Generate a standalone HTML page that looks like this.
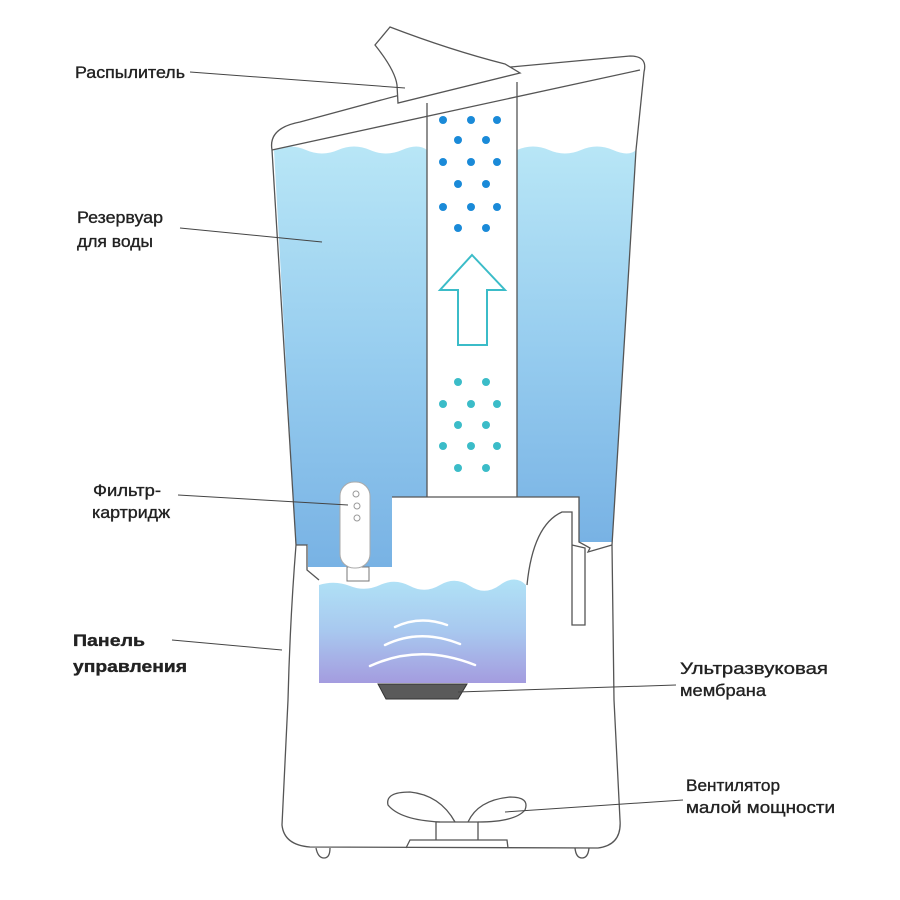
<!DOCTYPE html>
<html><head><meta charset="utf-8"><style>
body{margin:0;background:#fff}
svg{display:block}
text{font-family:"Liberation Sans",sans-serif;font-size:17px;fill:#222;stroke:#222;stroke-width:0.35}
</style></head><body>
<svg width="900" height="900" viewBox="0 0 900 900">
<defs>
<linearGradient id="w" x1="0" y1="0" x2="0" y2="1">
<stop offset="0" stop-color="#b8e6f6"/><stop offset="0.5" stop-color="#97cdef"/><stop offset="1" stop-color="#78b2e4"/></linearGradient>
<linearGradient id="w2" x1="0" y1="0" x2="0" y2="1">
<stop offset="0" stop-color="#b0e2f6"/><stop offset="0.5" stop-color="#a8c8ef"/><stop offset="1" stop-color="#a49cdf"/></linearGradient>
</defs>
<path d="M274 150 Q290 143 306 150 T338 150 T370 150 T402 150 T427 150 L427 497 L392 497 L392 567 L308 567 L308 545 L296 545 Z" fill="url(#w)"/>
<path d="M517 150 Q533 143 549 150 T581 150 T613 150 T636 150 L612 542 L579 542 L579 497 L517 497 Z" fill="url(#w)"/>
<g fill="none" stroke="#555" stroke-width="1.3">
<path d="M272 150 Q268 128 300 122 L500 68"/>
<path d="M272 150 L640 70"/>
<path d="M500 68 L630 56 Q648 56 644 72 L636 150 L612 545"/>
<path d="M272 150 L296 545"/>
<path d="M390 27 L375 45 Q395 70 397 85 L398 103 L520 73 L505 64 Q450 50 390 27Z" fill="#fff"/>
<path d="M296 545 L307 545 L307 570 L319 580 M392 497 L579 497 L579 542 L590 548 L588 552 L612 545"/>
<path d="M296 545 Q290 620 288 700 Q284 780 282 825 Q284 845 310 847 L598 848 Q622 845 620 820 L614 700 L612 545"/>
<path d="M527 585 Q533 525 562 512 L572 512 L572 545 L585 548 L585 625 L572 625 L572 545"/>
<path d="M316 848 Q318 858 324 858 Q330 858 330 848 M575 848 Q576 858 582 858 Q588 858 589 848"/>
<path d="M436 840 L436 822 L478 822 L478 840 M406 848 L410 840 L507 840 L508 848"/>
<path d="M440 822 Q400 820 388 805 Q385 792 410 792 Q440 795 455 822"/>
<path d="M468 822 Q478 800 510 797 Q530 797 525 810 Q515 822 478 822"/>
<path d="M427 103 L427 497 M517 82 L517 497"/>
</g>
<path d="M319 585 Q335 580 350 586 T380 585 T410 586 T440 585 T470 586 T500 585 T526 585 L526 683 L319 683 Z" fill="url(#w2)"/>
<path d="M378 684 L467 684 L458 699 L386 699 Z" fill="#5a5a5a" stroke="#333"/>
<g fill="none" stroke="#fff" stroke-width="2.5" stroke-linecap="round">
<path d="M395 627 Q420 615 447 625"/><path d="M385 645 Q420 628 460 644"/><path d="M370 666 Q420 643 475 665"/></g>
<rect x="347" y="567" width="22" height="14" fill="#fff" stroke="#777"/>
<rect x="340" y="482" width="30" height="86" rx="14" fill="#fff" stroke="#aaa"/>
<g fill="none" stroke="#999"><circle cx="356" cy="494" r="3"/><circle cx="357" cy="506" r="3"/><circle cx="357" cy="518" r="3"/></g>
<g fill="#1a8ad8">
<circle cx="443" cy="120" r="4"/><circle cx="471" cy="120" r="4"/><circle cx="497" cy="120" r="4"/>
<circle cx="458" cy="140" r="4"/><circle cx="486" cy="140" r="4"/>
<circle cx="443" cy="162" r="4"/><circle cx="471" cy="162" r="4"/><circle cx="497" cy="162" r="4"/>
<circle cx="458" cy="184" r="4"/><circle cx="486" cy="184" r="4"/>
<circle cx="443" cy="207" r="4"/><circle cx="471" cy="207" r="4"/><circle cx="497" cy="207" r="4"/>
<circle cx="458" cy="228" r="4"/><circle cx="486" cy="228" r="4"/></g>
<g fill="#3bbcc8">
<circle cx="458" cy="382" r="4"/><circle cx="486" cy="382" r="4"/>
<circle cx="443" cy="404" r="4"/><circle cx="471" cy="404" r="4"/><circle cx="497" cy="404" r="4"/>
<circle cx="458" cy="425" r="4"/><circle cx="486" cy="425" r="4"/>
<circle cx="443" cy="446" r="4"/><circle cx="471" cy="446" r="4"/><circle cx="497" cy="446" r="4"/>
<circle cx="458" cy="468" r="4"/><circle cx="486" cy="468" r="4"/></g>
<path d="M472 255 L505 290 L487 290 L487 345 L458 345 L458 290 L440 290 Z" fill="#fff" stroke="#3bbcc8" stroke-width="2"/>
<g stroke="#444" stroke-width="1" fill="none">
<path d="M190 72 L405 88"/><path d="M180 228 L322 242"/><path d="M178 495 L348 505"/>
<path d="M172 640 L282 650"/><path d="M676 685 L458 692"/><path d="M683 800 L505 812"/></g>
<g lengthAdjust="spacingAndGlyphs">
<text x="75" y="78" textLength="110" lengthAdjust="spacingAndGlyphs">Распылитель</text>
<text x="77" y="223" textLength="86" lengthAdjust="spacingAndGlyphs">Резервуар</text><text x="77" y="247" textLength="76" lengthAdjust="spacingAndGlyphs">для воды</text>
<text x="93" y="496" textLength="68" lengthAdjust="spacingAndGlyphs">Фильтр-</text><text x="92" y="518" textLength="78" lengthAdjust="spacingAndGlyphs">картридж</text>
<text x="73" y="646" font-weight="bold" textLength="72" lengthAdjust="spacingAndGlyphs">Панель</text><text x="73" y="672" font-weight="bold" textLength="114" lengthAdjust="spacingAndGlyphs">управления</text>
<text x="680" y="674" textLength="148" lengthAdjust="spacingAndGlyphs">Ультразвуковая</text><text x="680" y="696" textLength="86" lengthAdjust="spacingAndGlyphs">мембрана</text>
<text x="686" y="791" textLength="94" lengthAdjust="spacingAndGlyphs">Вентилятор</text><text x="686" y="813" textLength="149" lengthAdjust="spacingAndGlyphs">малой мощности</text>
</g>
</svg>
</body></html>
